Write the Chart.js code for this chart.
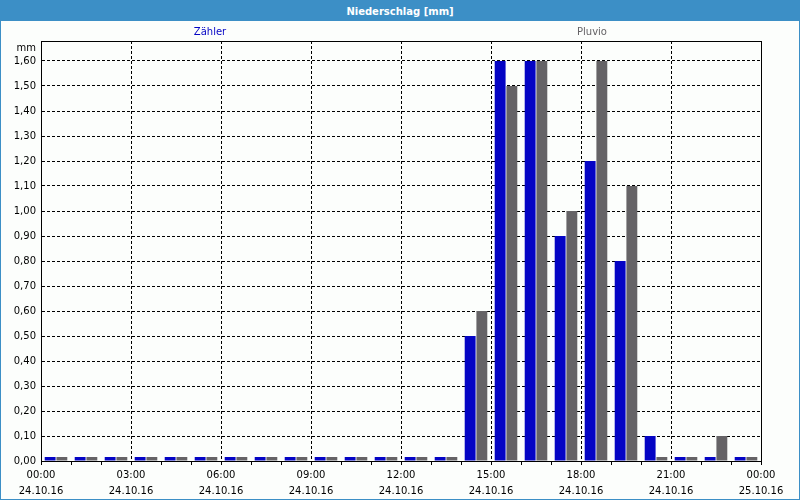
<!DOCTYPE html>
<html>
<head>
<meta charset="utf-8">
<script src="https://cdn.jsdelivr.net/npm/chart.js@4/dist/chart.umd.min.js"></script>
<style>
  body { margin: 0; }
  #box { position: relative; width: 800px; height: 500px; box-sizing: border-box;
         border: 1px solid #3c8fc6; background: #fcfefc; overflow: hidden; }
  #head { position: absolute; left: 0; top: 0; width: 100%; height: 20px; background: #3c8fc6;
          color: #fff; font: bold 10px "DejaVu Sans"; text-align: center; line-height: 21px; z-index: 2; }
  canvas { position: absolute; left: -1px; top: -1px; }
</style>
</head>
<body>
<div id="box">
  <div id="head">Niederschlag [mm]</div>
  <canvas id="rainChart" width="800" height="500"></canvas>
</div>
<script>
// hourly bins of 24.10.16
const hours = ['00:00', '01:00', '02:00', '03:00', '04:00', '05:00', '06:00', '07:00',
               '08:00', '09:00', '10:00', '11:00', '12:00', '13:00', '14:00', '15:00',
               '16:00', '17:00', '18:00', '19:00', '20:00', '21:00', '22:00', '23:00'];
const zaehler = [0, 0, 0, 0, 0, 0, 0, 0, 0, 0, 0, 0, 0, 0, 0.5, 1.6, 1.6, 0.9, 1.2, 0.8, 0.1, 0, 0, 0];
const pluvio  = [0, 0, 0, 0, 0, 0, 0, 0, 0, 0, 0, 0, 0, 0, 0.6, 1.5, 1.6, 1.0, 1.6, 1.1, 0, 0, 0.1, 0];

// labels every 3 hours
const tickTimes = ['00:00', '03:00', '06:00', '09:00', '12:00', '15:00', '18:00', '21:00', '00:00'];
const tickDates = ['24.10.16', '24.10.16', '24.10.16', '24.10.16', '24.10.16',
                   '24.10.16', '24.10.16', '24.10.16', '25.10.16'];

const font = { family: 'DejaVu Sans', size: 10 };

// frame round the plot, legend texts and unit
const frame = {
    id: 'frame',
    afterDraw(chart) {
        const { ctx, chartArea: a } = chart;
        ctx.save();
        ctx.setLineDash([]);
        ctx.strokeStyle = '#000';
        ctx.lineWidth = 1;
        ctx.strokeRect(Math.round(a.left) + 0.5, Math.round(a.top) + 0.5,
                       Math.round(a.right - a.left), Math.round(a.bottom - a.top));
        ctx.font = '10px "DejaVu Sans"';
        ctx.textBaseline = 'middle';
        ctx.textAlign = 'center';
        const mid = (a.left + a.right) / 2;
        chart.data.datasets.forEach((ds, i) => {
            ctx.fillStyle = ds.backgroundColor;
            ctx.fillText(ds.label, mid + (i ? 191 : -191), 32);
        });
        ctx.textAlign = 'right';
        ctx.fillStyle = '#000';
        ctx.fillText('mm', a.left - 5, a.top + 7);
        ctx.restore();
    }
};

const config = {
    type: 'bar',
    data: {
        labels: hours,
        datasets: [
            { label: 'Zähler', data: zaehler, backgroundColor: '#0404c4' },
            { label: 'Pluvio', data: pluvio, backgroundColor: '#656366' }
        ]
    },
    options: {
        responsive: false,
        animation: false,
        categoryPercentage: 0.78,
        barPercentage: 0.93,
        minBarLength: 4,
        layout: { padding: { left: 1, right: 39, top: 41, bottom: 0 } },
        plugins: { legend: { display: false }, tooltip: { enabled: false } },
        scales: {
            x: { type: 'category', display: false, offset: true },
            x2: {
                type: 'linear', position: 'bottom', min: 0, max: 24, offset: false,
                afterFit: s => { s.height = 39; s.paddingLeft = 0; s.paddingRight = 0; },
                border: { color: '#000', dash: [3, 2] },
                grid: {
                    offset: false,
                    color: c => (c.tick && c.tick.value % 3 === 0) ? '#000' : 'rgba(0,0,0,0)',
                    tickColor: '#000', tickLength: 4, tickBorderDash: []
                },
                ticks: {
                    stepSize: 1, autoSkip: false, maxRotation: 0, color: '#000', padding: 2,
                    font: { family: 'DejaVu Sans', size: 10, lineHeight: 1.6 },
                    callback: v => v % 3 === 0 ? [tickTimes[v / 3], tickDates[v / 3]] : ''
                }
            },
            y: {
                min: 0, max: 1.68, bounds: 'data',
                afterFit: s => { s.width = 40; },
                border: { color: '#000', dash: [3, 2] },
                grid: { color: '#000', drawTicks: false },
                ticks: {
                    stepSize: 0.1, includeBounds: false, color: '#000', padding: 5, font: font,
                    callback: v => v.toFixed(2).replace('.', ',')
                }
            }
        }
    },
    plugins: [frame]
};

window.onload = function() {
    const ctx = document.getElementById('rainChart').getContext('2d');
    new Chart(ctx, config);
};
</script>
</body>
</html>
